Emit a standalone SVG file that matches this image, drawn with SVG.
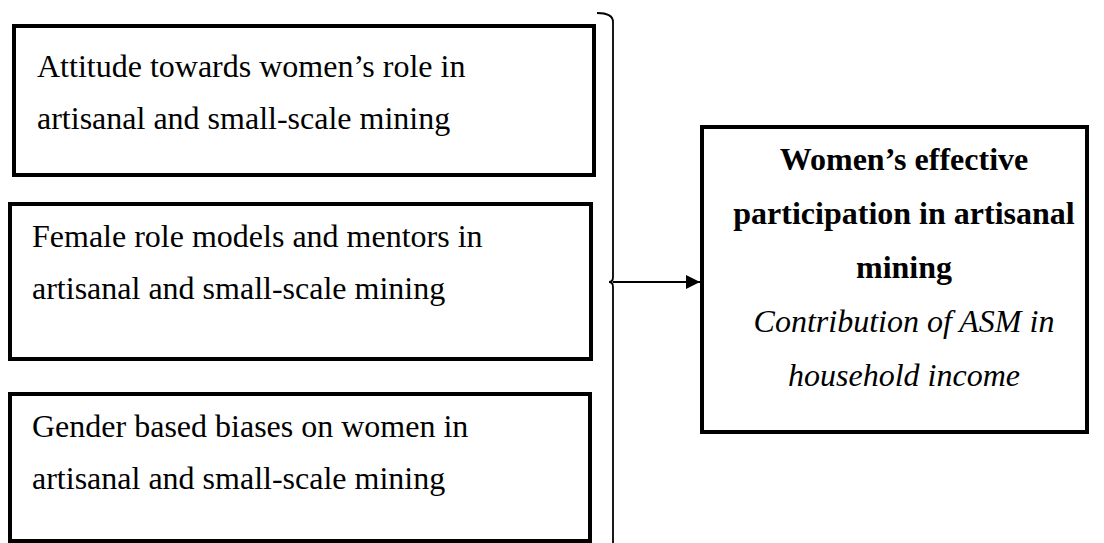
<svg xmlns="http://www.w3.org/2000/svg" width="1104" height="543" viewBox="0 0 1104 543">
  <style>
    .box { fill: #fff; stroke: #000; stroke-width: 4; }
    .t { font-family: "Liberation Serif", "Times New Roman", serif; font-size: 32px; fill: #000; }
    .b { font-weight: bold; }
    .i { font-style: italic; }
    .line { fill: none; stroke: #000; stroke-width: 1.8; }
  </style>
  <defs>
    <marker id="arrow" viewBox="0 0 10 10" refX="10" refY="5" markerWidth="16" markerHeight="14" markerUnits="userSpaceOnUse" orient="auto">
      <path d="M0,0 L10,5 L0,10 Z" fill="#000"/>
    </marker>
  </defs>
  <rect width="1104" height="543" fill="#fff"/>

  <g id="node-attitude">
    <rect class="box" x="14" y="26" width="580" height="149"/>
    <text class="t" x="37" y="77">Attitude towards women’s role in</text>
    <text class="t" x="37" y="129">artisanal and small-scale mining</text>
  </g>

  <g id="node-rolemodels">
    <rect class="box" x="10" y="204" width="581" height="155"/>
    <text class="t" x="32" y="247">Female role models and mentors in</text>
    <text class="t" x="32" y="299">artisanal and small-scale mining</text>
  </g>

  <g id="node-biases">
    <rect class="box" x="10" y="394" width="580" height="147"/>
    <text class="t" x="32" y="437">Gender based biases on women in</text>
    <text class="t" x="32" y="489">artisanal and small-scale mining</text>
  </g>

  <g id="node-outcome">
    <rect class="box" x="702" y="127" width="385" height="305"/>
    <text class="t b" x="904" y="170" text-anchor="middle">Women’s effective</text>
    <text class="t b" x="904" y="224" text-anchor="middle">participation in artisanal</text>
    <text class="t b" x="904" y="278" text-anchor="middle">mining</text>
    <text class="t i" x="904" y="332" text-anchor="middle">Contribution of ASM in</text>
    <text class="t i" x="904" y="386" text-anchor="middle">household income</text>
  </g>

  <g id="connectors">
    <path class="line" d="M597,13 Q613,13 613,22 L613,277 Q613,282 609,282 Q613,282 613,287 L613,545"/>
    <line class="line" x1="613" y1="282" x2="700" y2="282" marker-end="url(#arrow)"/>
  </g>
</svg>
